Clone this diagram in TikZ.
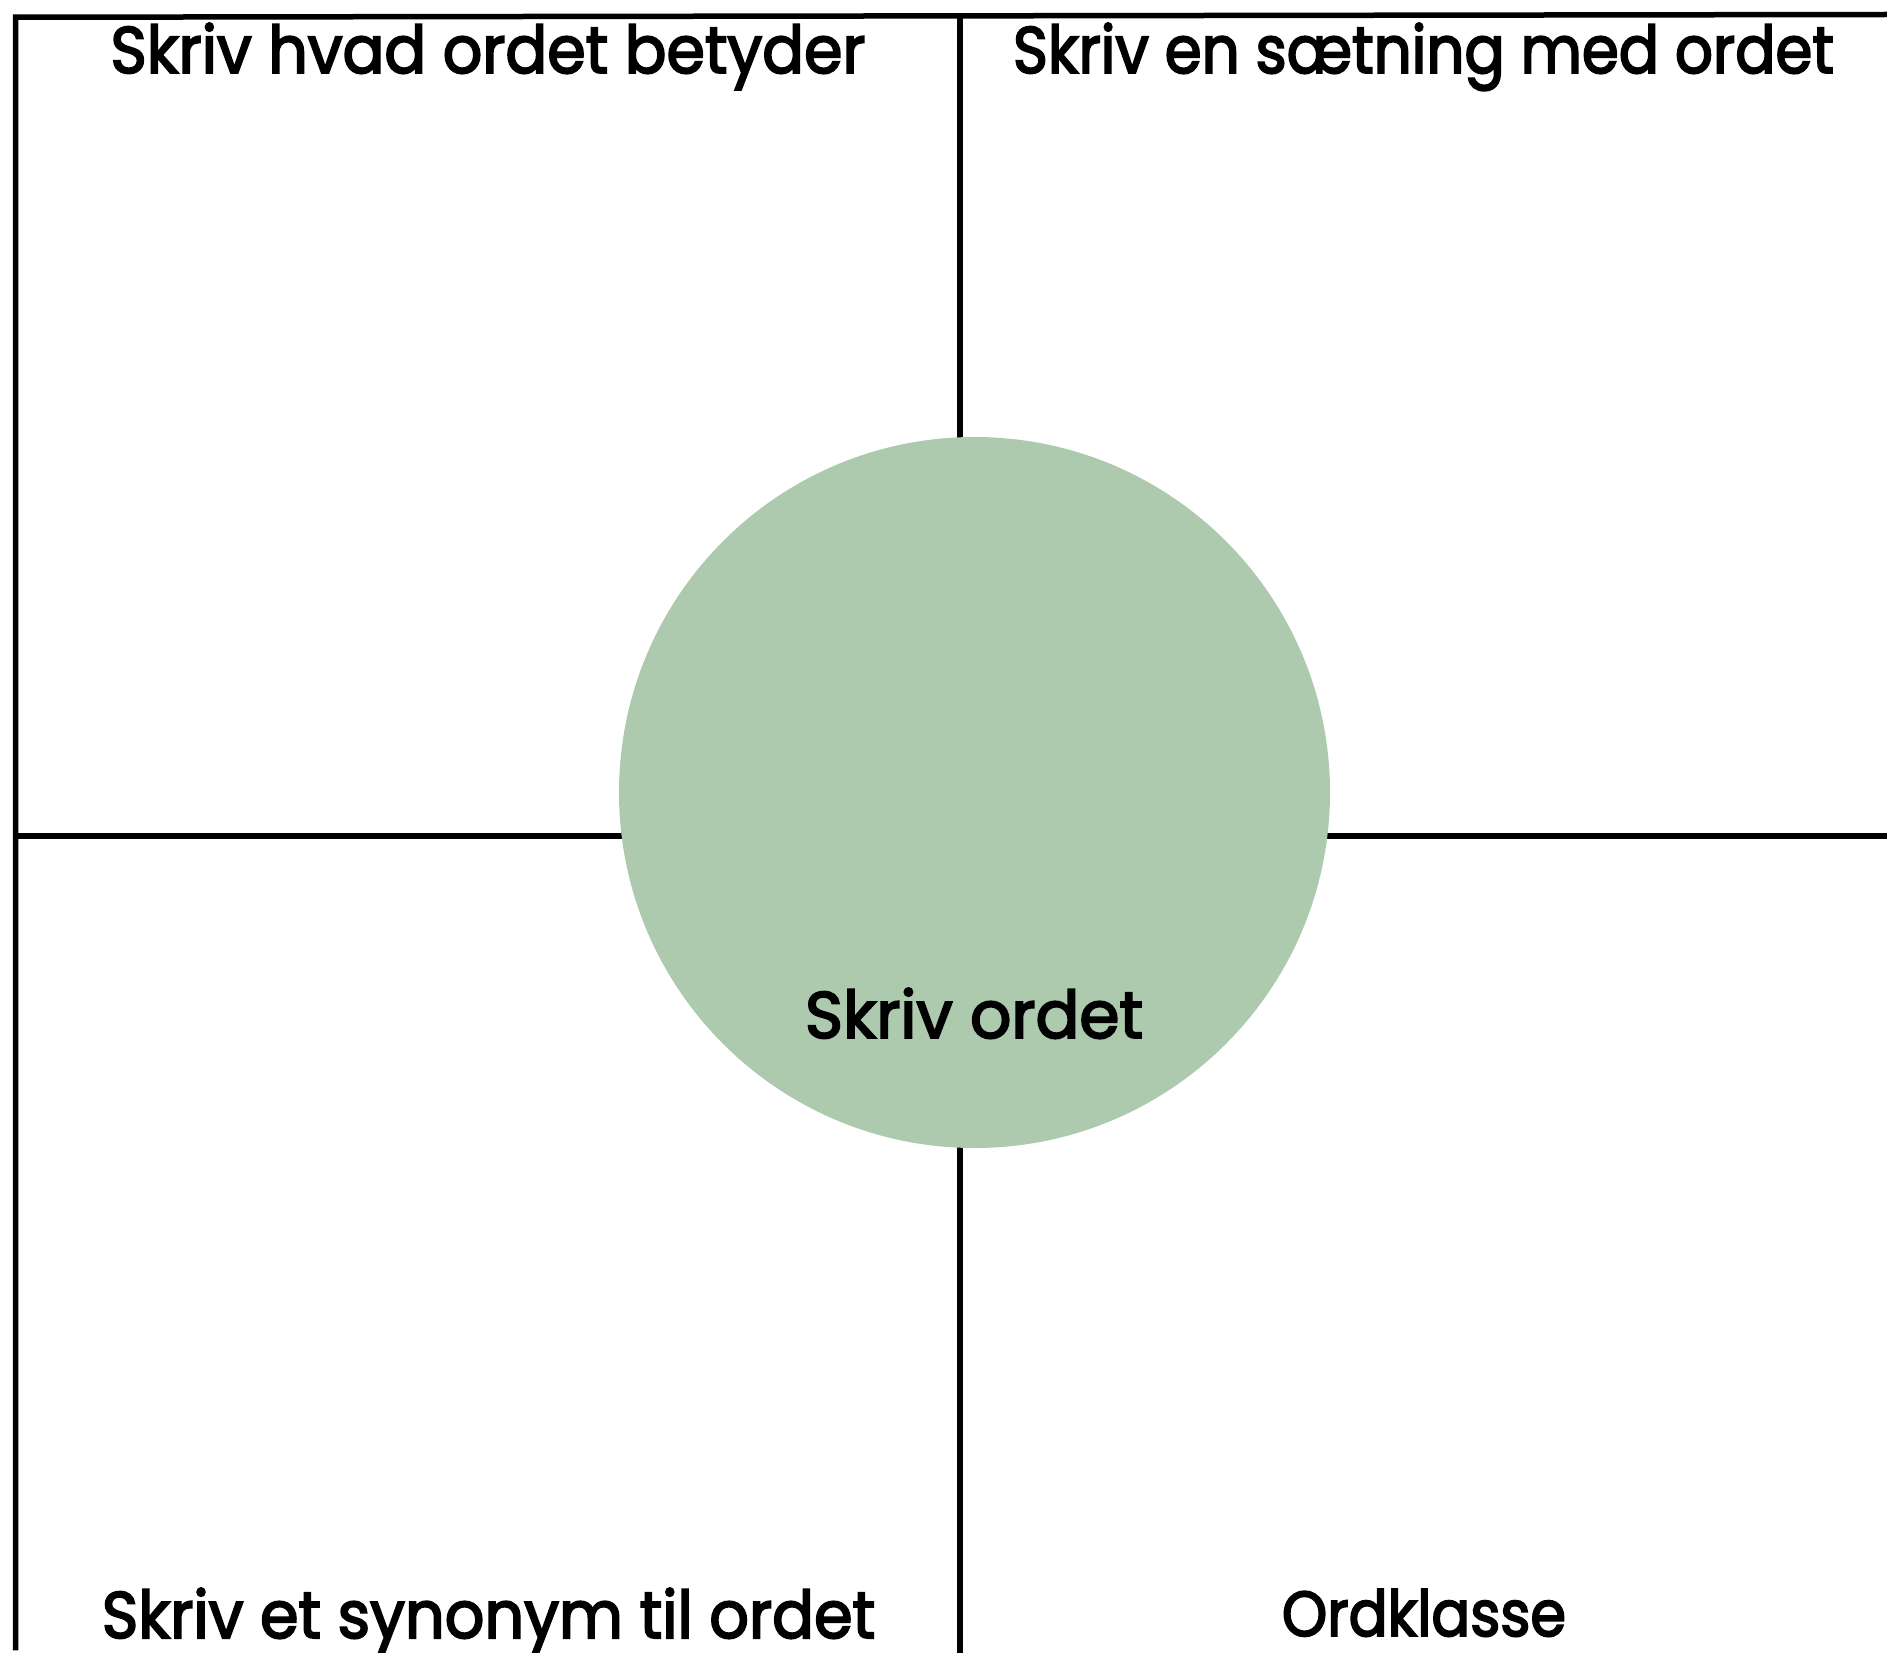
\documentclass[tikz,border=0pt]{standalone}
\usepackage{fontspec}
\setmainfont{Poppins}
\newfontfamily\labelfont{Poppins}[FakeBold=3]
\usepackage{graphicx}
\definecolor{circgreen}{RGB}{173,202,175}
\tikzset{
  gridline/.style={line width=5.5pt, draw=black},
  label/.style={inner sep=0pt, anchor=base, text=black, font=\labelfont},
  wordcircle/.style={circle, fill=circgreen, draw=none, minimum size=711pt, inner sep=0pt}
}
\newcommand{\fittext}[3]{\resizebox{#1pt}{#2pt}{#3}}
\begin{document}
\begin{tikzpicture}[x=1pt,y=-1pt]
\useasboundingbox (0,0) rectangle (1887,1653);
% grid corners
\coordinate (tl) at (15.5,14.5);
\coordinate (tr) at (1887,14.5);
\coordinate (bl) at (15.5,1653);
\coordinate (tm) at (960,14.5);
\coordinate (bm) at (960,1653);
\coordinate (ml) at (15.5,836);
\coordinate (mr) at (1887,836);
\draw[gridline] ([yshift=2.75pt]bl) -- ([yshift=-2.75pt]tl) -- (tr);
\draw[gridline] (tm) -- (bm);
\draw[gridline] (ml) -- (mr);
% circle
\node[wordcircle] (word) at (974.5,792.5) {};
% labels
\node[label] (meaning) at (488,73) {\fittext{755}{50}{Skriv hvad ordet betyder}};
\node[label] (sentence) at (1423.5,73) {\fittext{821}{50}{Skriv en sætning med ordet}};
\node[label] (synonym) at (488.5,1638) {\fittext{773}{50}{Skriv et synonym til ordet}};
\node[label] (wordclass) at (1424,1636) {\fittext{284}{47}{Ordklasse}};
\node[label] (writeword) at (974,1038) {\fittext{338}{50}{Skriv ordet}};
\end{tikzpicture}
\end{document}
